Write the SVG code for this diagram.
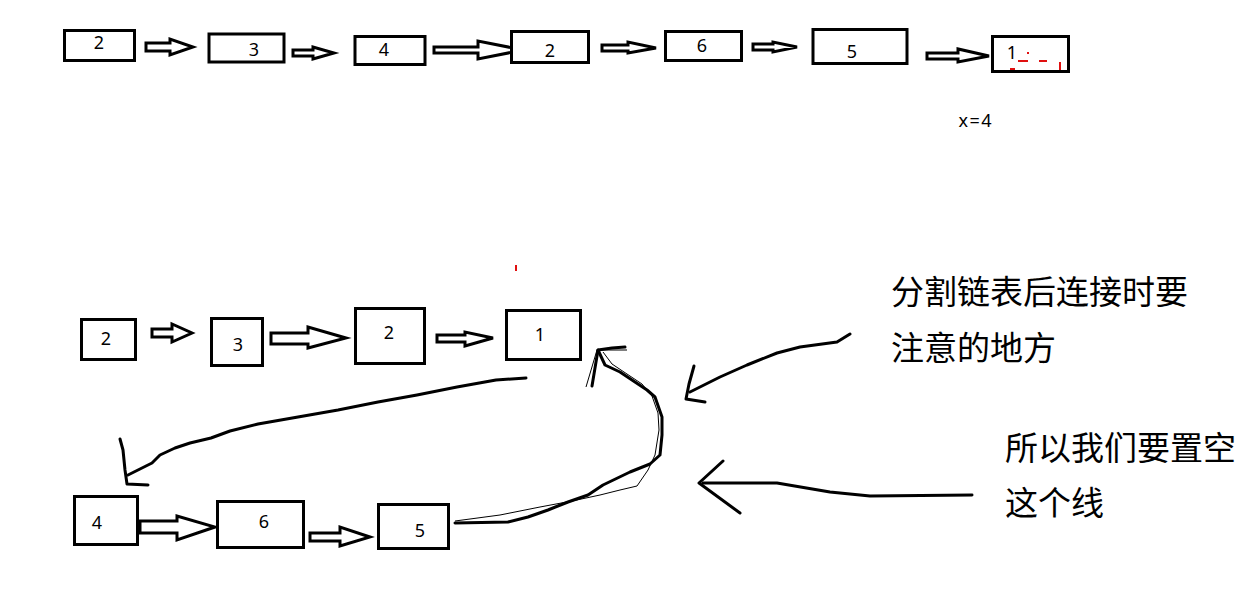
<svg xmlns="http://www.w3.org/2000/svg" width="1235" height="605" viewBox="0 0 1235 605">
<style>
.box{fill:#fff;stroke:#000;stroke-width:3}
.num{font-family:"Noto Sans","Open Sans",sans-serif;font-size:18px;fill:#000;text-anchor:middle}
.blk{fill:#fff;stroke:#000;stroke-width:3;stroke-linejoin:miter}
.pen{fill:none;stroke:#000;stroke-width:3;stroke-linejoin:round;stroke-linecap:round}
.thin{fill:none;stroke:#000;stroke-width:1;stroke-linejoin:round}
.cjk{font-family:"Noto Sans CJK SC",sans-serif;font-size:33px;fill:#000}
.red{fill:#e01010}
</style>
<rect width="1235" height="605" fill="#fff"/>
<g id="connectors">
<polygon class="blk" points="146,43 170,43 170,39 193,47 170,55 170,51 146,51"/>
<polygon class="blk" points="293,50 313,50 313,47 334,53 313,59 313,56 293,56"/>
<polygon class="blk" points="434,47 478,47 478,41 523,50 478,59 478,53 434,53"/>
<polygon class="blk" points="602,45 628,45 628,42 656,48 628,53 628,51 602,51"/>
<polygon class="blk" points="753,44 773,44 773,42 797,47 773,52 773,50 753,50"/>
<polygon class="blk" points="927,53 958,53 958,49 989,56 958,62 958,59 927,59"/>
<polygon class="blk" points="152,329 172,329 172,324 192,333 172,342 172,337 152,337"/>
<polygon class="blk" points="271,333 308,333 308,327 346,338 308,348 308,344 271,344"/>
<polygon class="blk" points="437,335 465,335 465,332 493,338 465,346 465,342 437,342"/>
<polygon class="blk" points="140,521 177,521 177,516 215,527 177,540 177,533 140,533"/>
<polygon class="blk" points="310,533 340,533 340,527 370,537 340,546 340,541 310,541"/>
<polyline class="pen" points="526,378 496,380 457,387 417,395 378,402 338,410 298,417 258,424 230,431 211,438 190,443 175,448 160,455 152,463 140,469 128,475"/>
<polyline class="pen" points="120,439 123,450 125,470 127,484 148,485"/>
<polyline class="pen" points="455,523 508,522 528,517 548,510 568,502 588,495 603,485 630,472 650,464 660,455 662,435 662,417 655,397 647,390 632,380 620,372 605,365 598,350"/>
<polyline class="pen" points="592,386 598,350 612,348 625,347"/>
<polyline class="thin" points="455,521 500,515 540,507 572,501 600,495 620,490 637,486 648,470 655,455 659,430 658,413 652,396 642,384 630,376 612,364 603,352"/>
<polyline class="thin" points="586,387 597,350 603,350 627,350"/>
<polyline class="pen" points="850,334 837,342 800,347 777,353 747,365 720,377 690,392"/>
<polyline class="pen" points="694,366 689,384 686,399 705,402"/>
<polyline class="pen" points="972,495 870,496 830,492 777,483 703,483"/>
<polyline class="pen" points="723,461 699,483 740,513"/>
</g>
<g id="n_t1"><rect class="box" x="64.5" y="30.5" width="70" height="30"/><text class="num" x="99" y="49">2</text></g>
<g id="n_t2"><rect class="box" x="209" y="34" width="75" height="28"/><text class="num" x="254" y="56">3</text></g>
<g id="n_t3"><rect class="box" x="355" y="36.5" width="70" height="28"/><text class="num" x="384" y="56">4</text></g>
<g id="n_t4"><rect class="box" x="511.5" y="31.5" width="77" height="31"/><text class="num" x="550" y="57">2</text></g>
<g id="n_t5"><rect class="box" x="665.5" y="31.5" width="76" height="29"/><text class="num" x="702" y="52">6</text></g>
<g id="n_t6"><rect class="box" x="813" y="29.5" width="94" height="34"/><text class="num" x="852" y="58">5</text></g>
<g id="n_t7"><rect class="box" x="992.5" y="36.5" width="76" height="35"/><text class="num" x="1012" y="59">1</text>
<rect class="red" x="1018" y="60" width="10" height="2"/><rect class="red" x="1039" y="60" width="8" height="2"/><rect class="red" x="1027" y="52" width="2" height="2"/><rect class="red" x="1010" y="68" width="5" height="2"/><rect class="red" x="1059" y="62" width="2" height="8"/></g>
<text id="xlabel" class="num" x="975" y="127" textLength="33" lengthAdjust="spacing">x=4</text>
<rect class="red" x="515" y="265" width="2" height="6"/>
<g id="n_b1"><rect class="box" x="81.5" y="319.5" width="54" height="40"/><text class="num" x="106" y="345">2</text></g>
<g id="n_b2"><rect class="box" x="211.5" y="318.5" width="51" height="47"/><text class="num" x="238" y="351">3</text></g>
<g id="n_b3"><rect class="box" x="355.5" y="308.5" width="69" height="55"/><text class="num" x="389" y="339">2</text></g>
<g id="n_b4"><rect class="box" x="506.5" y="310.5" width="74" height="49"/><text class="num" x="540" y="341">1</text></g>
<g id="n_b5"><rect class="box" x="74.5" y="496.5" width="63" height="48"/><text class="num" x="97" y="529">4</text></g>
<g id="n_b6"><rect class="box" x="217.5" y="501.5" width="86" height="46"/><text class="num" x="264" y="528">6</text></g>
<g id="n_b7"><rect class="box" x="378.5" y="504.5" width="70" height="44"/><text class="num" x="420" y="537">5</text></g>
<g id="note1"><text class="cjk" x="891" y="304">分割链表后连接时要</text><text class="cjk" x="891" y="359.5">注意的地方</text></g>
<g id="note2"><text class="cjk" x="1005" y="459.5">所以我们要置空</text><text class="cjk" x="1005" y="514.5">这个线</text></g>
</svg>
